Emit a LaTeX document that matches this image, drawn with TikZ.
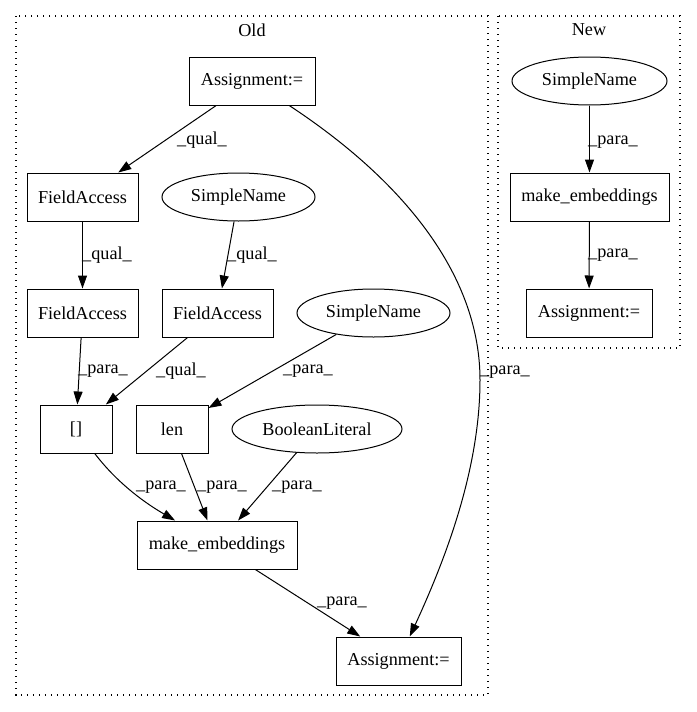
\documentclass[tikz,border=0pt]{standalone}
\usepackage{fontspec}
\setmainfont{Liberation Serif}
\usetikzlibrary{arrows.meta,shapes.geometric}
\begin{document}
\begin{tikzpicture}[x=1pt,y=-1pt,
  every node/.style={font=\fontsize{18.2}{22}\selectfont, inner sep=0pt},
  boxnode/.style={draw, line width=1pt, rectangle, minimum height=48pt},
  ellnode/.style={draw, line width=1pt, ellipse, minimum height=48pt},
  cluster/.style={draw, line width=1.2pt, dash pattern=on 1.3pt off 4.7pt},
  conn/.style={draw, line width=1pt, -{Triangle[length=13pt,width=9pt]}},
  lbl/.style={anchor=center}
]
\useasboundingbox (0,0) rectangle (696,712);
% clusters
\path[cluster] (16,16) rectangle (488,695);
\path[cluster] (498,16) rectangle (680,348);
\node (oldlbl) at (252,30) {Old};
\node (newlbl) at (589,30) {New};
% Old nodes
\node[boxnode, minimum width=126pt] (at) at (252,81) {Assignment:=};
\node[boxnode, minimum width=111pt] (fa1) at (82.5,197) {FieldAccess};
\node[ellnode, minimum width=153pt] (sn1) at (238.5,197) {SimpleName};
\node[boxnode, minimum width=111pt] (fa2) at (82.5,313) {FieldAccess};
\node[boxnode, minimum width=111pt] (fa3) at (217.5,313) {FieldAccess};
\node[ellnode, minimum width=153pt] (sn2) at (373.5,313) {SimpleName};
\node[boxnode, minimum width=72pt] (brk) at (76,429) {[]};
\node[boxnode, minimum width=72pt] (len) at (172,429) {len};
\node[ellnode, minimum width=170pt] (bl) at (317,429) {BooleanLiteral};
\node[boxnode, minimum width=160pt] (me) at (217,545) {make\_embeddings};
\node[boxnode, minimum width=125pt] (ab) at (398.5,661) {Assignment:=};
% New nodes
\node[ellnode, minimum width=155pt] (nsn) at (589.5,81) {SimpleName};
\node[boxnode, minimum width=159pt] (nme) at (589.5,197) {make\_embeddings};
\node[boxnode, minimum width=126pt] (nab) at (589,313) {Assignment:=};
% Old edges
\path[conn] (at) -- (fa1) node[lbl] at (202,140) {\_qual\_};
\path[conn] (fa1) -- (fa2) node[lbl] at (107,255) {\_qual\_};
\path[conn] (sn1) -- (fa3) node[lbl] at (252,255) {\_qual\_};
\path[conn] (fa2) -- (brk) node[lbl] at (103,371) {\_para\_};
\path[conn] (fa3) -- (brk) node[lbl] at (181,371) {\_qual\_};
\path[conn] (sn2) -- (len) node[lbl] at (308,371) {\_para\_};
\path[conn] (brk) .. controls (115,480) and (140,500) .. (me) node[lbl] at (161,487) {\_para\_};
\path[conn] (len) -- (me) node[lbl] at (222,487) {\_para\_};
\path[conn] (bl) -- (me) node[lbl] at (297,487) {\_para\_};
\path[conn] (me) -- (ab) node[lbl] at (342,603) {\_para\_};
\path[conn] (at) .. controls (410,185) and (480,280) .. (480,380) .. controls (480,470) and (445,560) .. (ab) node[lbl] at (505,372) {\_para\_};
% New edges
\path[conn] (nsn) -- (nme) node[lbl] at (613,142) {\_para\_};
\path[conn] (nme) -- (nab) node[lbl] at (613,255) {\_para\_};
\end{tikzpicture}
\end{document}
